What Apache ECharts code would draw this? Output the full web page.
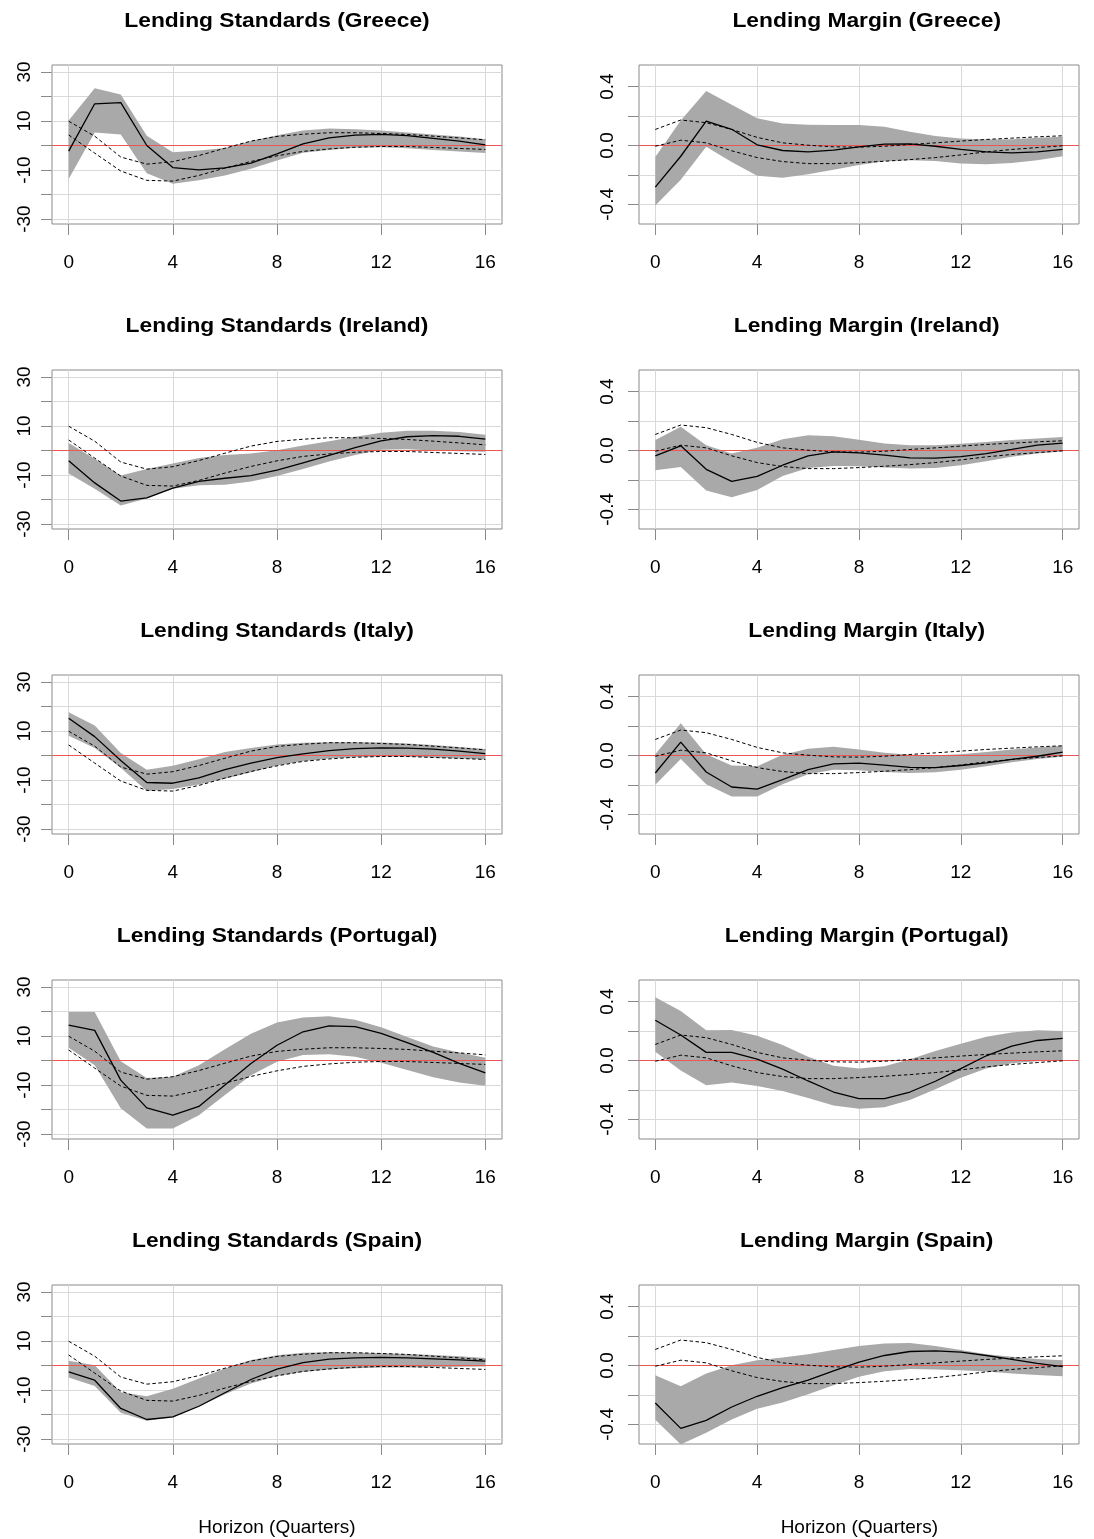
<!DOCTYPE html>
<html>
<head>
<meta charset="utf-8">
<script src="https://cdn.jsdelivr.net/npm/echarts@6/dist/echarts.min.js"></script>
<style>
html,body{margin:0;padding:0;background:#ffffff;}
#chart{width:1094px;height:1539px;}
</style>
</head>
<body>
<div id="chart"></div>
<script>
// ---------------- data ----------------
const horizon = [0,1,2,3,4,5,6,7,8,9,10,11,12,13,14,15,16];
const xTicks = [0,4,8,12,16];
const xRange = [-0.64,16.64];
const stdRange = [-31.99,32.81];
const marRange = [-0.5332,0.5468];
const stdTicks = [-30,-20,-10,0,10,20,30];
const stdTickLabels = [-30,-10,10,30];
const marTicks = [-0.4,-0.2,0,0.2,0.4];
const marTickLabels = [-0.4,0,0.4];
const countries = ['Greece','Ireland','Italy','Portugal','Spain'];
const xTitle = 'Horizon (Quarters)';

// reference (dashed) responses, common to all panels
const refStdUpper = [9.9,3.8,-4.7,-7.6,-6.6,-4.1,-1.1,1.8,3.7,4.6,5.2,5.2,4.9,4.5,3.8,3.1,2.3];
const refStdLower = [4.3,-3.1,-10.4,-14.2,-14.5,-12.2,-9.2,-6.5,-4.2,-2.4,-1.4,-0.7,-0.4,-0.4,-0.8,-1.2,-1.6];
const refMarUpper = [0.109,0.173,0.155,0.109,0.055,0.018,0.002,-0.009,-0.011,-0.005,0.007,0.018,0.03,0.041,0.05,0.059,0.066];
const refMarLower = [-0.005,0.036,0.018,-0.036,-0.082,-0.109,-0.123,-0.123,-0.116,-0.107,-0.096,-0.082,-0.064,-0.043,-0.027,-0.014,-0.002];

// Greece
const greeceStdMid = [-2.3,17,17.5,0,-9,-9.9,-9.1,-7.2,-3.4,0.7,3.1,4.2,4.5,4,2.9,1.8,0.3];
const greeceStdHi  = [10.2,23.3,20.8,4,-2.7,-2,-1,1.8,4.2,6.1,6.9,6.6,6.1,5.3,4.5,3.7,2.6];
const greeceStdLo  = [-13.7,5.3,4.5,-11.3,-15.6,-14.2,-12.2,-9.5,-6.1,-3,-1.8,-0.9,-0.7,-1.1,-1.8,-2.4,-3.1];
const greeceMarMid = [-0.283,-0.073,0.166,0.11,0.005,-0.034,-0.043,-0.032,-0.01,0.009,0.011,-0.005,-0.027,-0.043,-0.05,-0.043,-0.027];
const greeceMarHi  = [-0.078,0.17,0.37,0.276,0.185,0.15,0.141,0.139,0.139,0.128,0.093,0.064,0.048,0.041,0.043,0.052,0.059];
const greeceMarLo  = [-0.408,-0.232,-0.009,-0.112,-0.205,-0.219,-0.196,-0.164,-0.132,-0.107,-0.1,-0.105,-0.123,-0.128,-0.119,-0.1,-0.073];

// Ireland
const irelandStdMid = [-4.2,-13.2,-20.6,-19.3,-15.3,-12.6,-11.3,-10.2,-8,-5,-2,1.2,3.9,5.6,6.1,5.8,4.6];
const irelandStdHi  = [3.1,-3.4,-10.2,-7.5,-5.3,-3.1,-1.8,-1.2,0.1,2,3.8,5.6,7.2,8.1,8.1,7.5,6.4];
const irelandStdLo  = [-9.4,-15.6,-22.4,-19.6,-15.6,-14.2,-14,-12.6,-10.4,-7.5,-4.5,-1.8,0.3,0.5,0,-0.3,-0.5];
const irelandMarMid = [-0.036,0.032,-0.128,-0.21,-0.176,-0.1,-0.036,-0.009,-0.016,-0.032,-0.05,-0.052,-0.041,-0.021,0.007,0.036,0.05];
const irelandMarHi  = [0.071,0.162,0.036,-0.021,0.018,0.077,0.103,0.096,0.073,0.048,0.036,0.036,0.046,0.057,0.071,0.082,0.091];
const irelandMarLo  = [-0.134,-0.112,-0.271,-0.317,-0.269,-0.173,-0.119,-0.105,-0.107,-0.116,-0.123,-0.119,-0.1,-0.073,-0.043,-0.021,-0.007];

// Italy
const italyStdMid = [15.2,7.7,-2,-11,-11.3,-9.1,-5.8,-3.1,-0.9,0.7,2,2.8,3.1,3,2.6,1.8,0.8];
const italyStdHi  = [17.6,12.2,1,-5.8,-4.2,-1.5,1.4,3.1,4.5,5.2,5.4,5.4,5.3,4.9,4.3,3.5,2.7];
const italyStdLo  = [8.1,3.1,-5,-14.5,-13.6,-11.8,-9.5,-6.8,-4.1,-2.3,-1.2,-0.7,-0.4,-0.5,-0.8,-1.2,-1.6];
const italyMarMid = [-0.119,0.091,-0.112,-0.214,-0.228,-0.164,-0.096,-0.057,-0.052,-0.066,-0.08,-0.082,-0.068,-0.05,-0.027,-0.005,0.023];
const italyMarHi  = [0.009,0.219,0.009,-0.068,-0.073,0.005,0.046,0.059,0.041,0.018,0.005,0.002,0.009,0.023,0.041,0.055,0.066];
const italyMarLo  = [-0.198,-0.023,-0.196,-0.278,-0.278,-0.196,-0.128,-0.096,-0.1,-0.112,-0.119,-0.114,-0.096,-0.073,-0.046,-0.023,-0.009];

// Portugal
const portugalStdMid = [14.4,12.3,-8,-19.3,-22.3,-18.7,-10,-1.2,6.2,11.7,14.1,13.8,11.1,7.3,3.3,-1.2,-5];
const portugalStdHi  = [19.8,19.8,-0.3,-7.1,-6.6,-1.9,4.6,10.9,15.5,17.5,18,16.6,13.6,9.6,5.7,3.3,1.1];
const portugalStdLo  = [5.2,-1.9,-19.5,-27.7,-27.7,-22.3,-14.1,-6,-0.5,2.2,2.6,1.5,-0.9,-3.9,-6.8,-9,-10.3];
const portugalMarMid = [0.273,0.173,0.055,0.055,0.009,-0.059,-0.139,-0.214,-0.259,-0.259,-0.214,-0.141,-0.055,0.032,0.098,0.136,0.15];
const portugalMarHi  = [0.43,0.336,0.205,0.207,0.168,0.105,0.025,-0.036,-0.055,-0.039,0.009,0.064,0.114,0.161,0.191,0.205,0.2];
const portugalMarLo  = [0.059,-0.068,-0.168,-0.15,-0.173,-0.207,-0.255,-0.305,-0.327,-0.318,-0.268,-0.195,-0.118,-0.055,-0.018,-0.005,-0.002];

// Spain
const spainStdMid = [-2.6,-6,-17.5,-22,-20.9,-16.6,-11.1,-5.7,-1.5,1.2,2.6,3.1,3.3,3.1,2.7,2.3,1.8];
const spainStdHi  = [1.9,0.1,-10.9,-12.5,-9.5,-5.3,-1.2,2.2,4.2,5.2,5.4,5.3,5,4.7,4.3,3.8,3.1];
const spainStdLo  = [-4.9,-8.4,-19.3,-22.5,-21.2,-16.8,-11.7,-7.3,-4.3,-2.6,-1.6,-1.1,-0.8,-0.8,-0.7,-0.5,-0.4];
const spainMarMid = [-0.255,-0.427,-0.373,-0.282,-0.209,-0.15,-0.1,-0.036,0.023,0.068,0.095,0.1,0.091,0.068,0.041,0.014,-0.007];
const spainMarHi  = [-0.066,-0.141,-0.055,0.002,0.036,0.055,0.077,0.105,0.132,0.15,0.152,0.132,0.105,0.077,0.059,0.045,0.036];
const spainMarLo  = [-0.368,-0.536,-0.457,-0.366,-0.293,-0.252,-0.195,-0.134,-0.077,-0.039,-0.023,-0.027,-0.032,-0.041,-0.055,-0.064,-0.073];

// ---------------- panel table ----------------
const panels = [
  {title:'Lending Standards (Greece)',   kind:'std', mid:greeceStdMid,   hi:greeceStdHi,   lo:greeceStdLo},
  {title:'Lending Margin (Greece)',      kind:'mar', mid:greeceMarMid,   hi:greeceMarHi,   lo:greeceMarLo},
  {title:'Lending Standards (Ireland)',  kind:'std', mid:irelandStdMid,  hi:irelandStdHi,  lo:irelandStdLo},
  {title:'Lending Margin (Ireland)',     kind:'mar', mid:irelandMarMid,  hi:irelandMarHi,  lo:irelandMarLo},
  {title:'Lending Standards (Italy)',    kind:'std', mid:italyStdMid,    hi:italyStdHi,    lo:italyStdLo},
  {title:'Lending Margin (Italy)',       kind:'mar', mid:italyMarMid,    hi:italyMarHi,    lo:italyMarLo},
  {title:'Lending Standards (Portugal)', kind:'std', mid:portugalStdMid, hi:portugalStdHi, lo:portugalStdLo},
  {title:'Lending Margin (Portugal)',    kind:'mar', mid:portugalMarMid, hi:portugalMarHi, lo:portugalMarLo},
  {title:'Lending Standards (Spain)',    kind:'std', mid:spainStdMid,    hi:spainStdHi,    lo:spainStdLo},
  {title:'Lending Margin (Spain)',       kind:'mar', mid:spainMarMid,    hi:spainMarHi,    lo:spainMarLo}
];

// ---------------- build option ----------------
const FONT = '"Liberation Sans", Arial, Helvetica, sans-serif';
const BOX = '#8a8a8a';
const GRIDC = '#d9d9d9';
const BAND = '#a9a9a9';
const ZERO = '#ee5555';
const DASH = [3.5, 2.5];

const pairs = arr => horizon.map((h, i) => [h, arr[i]]);

const grids = [], xAxes = [], yAxes = [], series = [], graphics = [];

panels.forEach((p, k) => {
  const row = Math.floor(k / 2), col = k % 2;
  const top = 65 + 305 * row;
  const left = col === 0 ? 52 : 639;
  const width = col === 0 ? 450 : 440;
  const isStd = p.kind === 'std';
  const yr = isStd ? stdRange : marRange;

  grids.push({
    left: left, top: top, width: width, height: 159,
    show: true, borderColor: BOX, borderWidth: 1, backgroundColor: 'transparent',
    containLabel: false, outerBoundsMode: 'none'
  });

  xAxes.push({
    gridIndex: k, type: 'value', min: xRange[0], max: xRange[1],
    axisLine: {show: false, onZero: false},
    axisTick: {show: true, customValues: xTicks, length: 11, inside: false, lineStyle: {color: BOX, width: 1}},
    axisLabel: {show: true, customValues: xTicks, margin: 29, fontSize: 19, color: '#000', fontFamily: FONT},
    splitLine: {show: true, lineStyle: {color: GRIDC, width: 1}}
  });

  yAxes.push({
    gridIndex: k, type: 'value', min: yr[0], max: yr[1],
    axisLine: {show: false, onZero: false},
    axisTick: {show: true, customValues: isStd ? stdTicks : marTicks, length: 11, inside: false, lineStyle: {color: BOX, width: 1}},
    axisLabel: {
      show: true, customValues: isStd ? stdTickLabels : marTickLabels,
      rotate: 90, margin: isStd ? 18 : 22, fontSize: 19, color: '#000', fontFamily: FONT,
      formatter: v => isStd ? String(Math.round(v)) : Number(v).toFixed(1)
    },
    splitLine: {show: true, lineStyle: {color: GRIDC, width: 1}}
  });

  const refU = isStd ? refStdUpper : refMarUpper;
  const refL = isStd ? refStdLower : refMarLower;
  const hi = p.hi, lo = p.lo;

  // confidence band (polygon through the axis scales)
  series.push({
    type: 'custom', name: p.title + ' band', xAxisIndex: k, yAxisIndex: k,
    data: horizon.map((h, i) => [h, lo[i], hi[i]]),
    encode: {x: 0, y: [1, 2]},
    clip: true, silent: true, z: 1,
    renderItem: (params, api) => {
      if (params.dataIndex !== 0) return null;
      const pts = [];
      for (let i = 0; i < horizon.length; i++) pts.push(api.coord([horizon[i], hi[i]]));
      for (let i = horizon.length - 1; i >= 0; i--) pts.push(api.coord([horizon[i], lo[i]]));
      return {type: 'polygon', shape: {points: pts}, style: {fill: BAND, stroke: null}};
    }
  });

  // zero line across the whole plot box
  series.push({
    type: 'line', name: p.title + ' zero', xAxisIndex: k, yAxisIndex: k,
    data: [[xRange[0], 0], [xRange[1], 0]], symbol: 'none', silent: true, z: 2,
    lineStyle: {color: ZERO, width: 1, type: 'solid'}
  });

  // reference dashed lines
  series.push({
    type: 'line', name: p.title + ' ref upper', xAxisIndex: k, yAxisIndex: k,
    data: pairs(refU), symbol: 'none', silent: true, z: 3,
    lineStyle: {color: '#000', width: 1, type: DASH}
  });
  series.push({
    type: 'line', name: p.title + ' ref lower', xAxisIndex: k, yAxisIndex: k,
    data: pairs(refL), symbol: 'none', silent: true, z: 3,
    lineStyle: {color: '#000', width: 1, type: DASH}
  });
  // country response
  series.push({
    type: 'line', name: p.title, xAxisIndex: k, yAxisIndex: k,
    data: pairs(p.mid), symbol: 'none', silent: true, z: 4,
    lineStyle: {color: '#000', width: 1.3, type: 'solid'}
  });

  // title
  graphics.push({
    type: 'text', x: col === 0 ? 277 : 866.7, y: 21 + 305 * row, scaleX: 1.14,
    silent: true,
    style: {text: p.title, textAlign: 'center', textVerticalAlign: 'middle',
            font: 'bold 20px ' + FONT, fill: '#000'}
  });
});

// x axis titles under the bottom row
[277, 859.3].forEach(cx => {
  graphics.push({
    type: 'text', x: cx, y: 1527.5, silent: true,
    style: {text: xTitle, textAlign: 'center', textVerticalAlign: 'middle',
            font: '19px ' + FONT, fill: '#000'}
  });
});

const chart = echarts.init(document.getElementById('chart'), null, {renderer: 'canvas', width: 1094, height: 1539});
chart.setOption({
  backgroundColor: '#ffffff',
  animation: false,
  grid: grids,
  xAxis: xAxes,
  yAxis: yAxes,
  series: series,
  graphic: graphics,
  tooltip: {show: false}
});
</script>
</body>
</html>
